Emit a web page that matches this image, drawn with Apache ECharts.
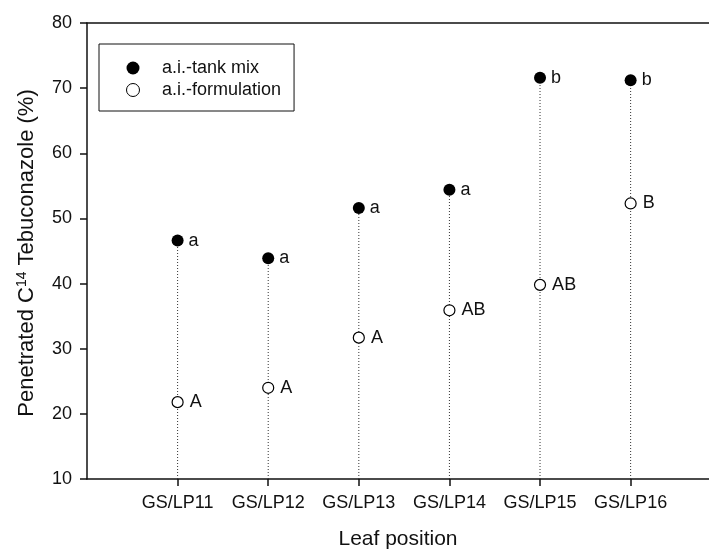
<!DOCTYPE html>
<html>
<head>
<meta charset="UTF-8">
<title>Penetrated Tebuconazole</title>
<script src="https://cdn.jsdelivr.net/npm/echarts@6/dist/echarts.min.js"></script>
<style>
  html, body { margin: 0; padding: 0; width: 100%; height: 100%; background: #fff; overflow: hidden; }
  #main { width: 709px; height: 551px; }
</style>
</head>
<body>
<div id="main"></div>
<script>
var categories = ['GS/LP11', 'GS/LP12', 'GS/LP13', 'GS/LP14', 'GS/LP15', 'GS/LP16'];
var tankMix = [46.6, 43.9, 51.6, 54.4, 71.6, 71.2];
var formulation = [21.8, 24.0, 31.7, 35.9, 39.8, 52.3];
var tankLetters = ['a', 'a', 'a', 'a', 'b', 'b'];
var formLetters = ['A', 'A', 'A', 'AB', 'AB', 'B'];
var yTicks = [10, 20, 30, 40, 50, 60, 70, 80];

var font = 'Liberation Sans, Arial, sans-serif';

// category i sits at x = i + 1 on a value axis that starts at the y axis
function toPoints(vals) {
  return vals.map(function (v, i) { return [i + 1, v]; });
}
var catPos = categories.map(function (c, i) { return i + 1; });

var chart = echarts.init(document.getElementById('main'));
var option = {
  animation: false,
  grid: { left: 87, top: 23, right: 0, bottom: 72, outerBoundsMode: 'none' },
  legend: {
    orient: 'vertical',
    left: 99,
    top: 44,
    padding: [15, 13, 12, 27],
    borderColor: '#111',
    borderWidth: 1,
    itemWidth: 48,
    itemHeight: 13,
    itemGap: 4,
    textStyle: { fontFamily: font, fontSize: 18, color: '#111' },
    data: [
      { name: 'a.i.-tank mix', icon: 'circle', itemStyle: { color: '#000', borderWidth: 0 } },
      { name: 'a.i.-formulation', icon: 'circle', itemStyle: { color: '#fff', borderColor: '#000', borderWidth: 1 } }
    ]
  },
  xAxis: [{
    type: 'value',
    min: 0,
    max: 6.865,
    interval: 1,
    name: 'Leaf position',
    nameLocation: 'middle',
    nameGap: 50,
    nameTextStyle: { fontFamily: font, fontSize: 21, color: '#111' },
    axisLine: { show: true, lineStyle: { color: '#111', width: 1.5 } },
    axisTick: { show: true, length: 7, customValues: catPos, lineStyle: { color: '#111', width: 1.5 } },
    axisLabel: {
      customValues: catPos,
      margin: 15,
      fontFamily: font, fontSize: 18, color: '#111',
      formatter: function (v) { return categories[Math.round(v) - 1] || ''; }
    },
    splitLine: { show: false }
  }, {
    type: 'value',
    position: 'top',
    min: 0,
    max: 6.865,
    axisLine: { show: true, lineStyle: { color: '#111', width: 1.5 } },
    axisTick: { show: false },
    axisLabel: { show: false },
    splitLine: { show: false }
  }],
  yAxis: {
    type: 'value',
    min: 10,
    max: 80,
    interval: 10,
    name: '{t|Penetrated C}{s|14}{t| Tebuconazole (%)}',
    nameLocation: 'middle',
    nameGap: 49,
    nameTextStyle: {
      fontFamily: font, color: '#111',
      padding: [0, 4, 0, 0],
      rich: {
        t: { fontFamily: font, fontSize: 22, color: '#111' },
        s: { fontFamily: font, fontSize: 14, color: '#111', verticalAlign: 'top', padding: [0, 0, 9, 0] }
      }
    },
    axisLine: { show: true, lineStyle: { color: '#111', width: 1.5 } },
    axisTick: { show: true, length: 7, lineStyle: { color: '#111', width: 1.5 } },
    axisLabel: {
      customValues: yTicks,
      margin: 15,
      fontFamily: font, fontSize: 18, color: '#111'
    },
    splitLine: { show: false }
  },
  series: [{
    type: 'custom',
    name: 'drop',
    silent: true,
    z: 1,
    data: toPoints(tankMix),
    renderItem: function (params, api) {
      var top = api.coord([api.value(0), api.value(1)]);
      var base = api.coord([api.value(0), 10]);
      return {
        type: 'line',
        shape: { x1: base[0], y1: base[1], x2: top[0], y2: top[1] },
        style: { stroke: '#333', lineWidth: 1, lineDash: [1, 2] }
      };
    }
  }, {
    type: 'scatter',
    name: 'a.i.-tank mix',
    z: 3,
    symbol: 'circle',
    symbolSize: 12,
    itemStyle: { color: '#000', opacity: 1 },
    label: {
      show: true, position: 'right', distance: 5,
      fontFamily: font, fontSize: 18, color: '#111',
      formatter: function (p) { return tankLetters[p.dataIndex]; }
    },
    data: toPoints(tankMix)
  }, {
    type: 'scatter',
    name: 'a.i.-formulation',
    z: 3,
    symbol: 'circle',
    symbolSize: 11,
    itemStyle: { color: '#fff', borderColor: '#000', borderWidth: 1.2, opacity: 1 },
    label: {
      show: true, position: 'right', distance: 6,
      fontFamily: font, fontSize: 18, color: '#111',
      formatter: function (p) { return formLetters[p.dataIndex]; }
    },
    data: toPoints(formulation)
  }]
};
chart.setOption(option);
</script>
</body>
</html>
